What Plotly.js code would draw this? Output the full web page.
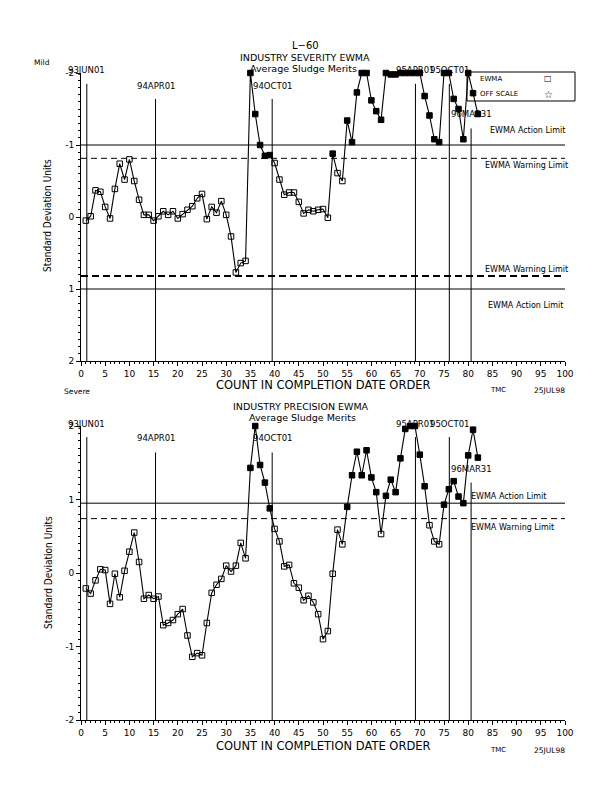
<!DOCTYPE html>
<html><head><meta charset="utf-8">
<script src="https://cdn.plot.ly/plotly-3.0.1.min.js"></script>
<style>html,body{margin:0;padding:0;background:#fff}#chart{width:616px;height:792px}</style>
</head><body><div id="chart"></div>
<script>
// ---------------- DATA ----------------
const count = [1,2,3,4,5,6,7,8,9,10,11,12,13,14,15,16,17,18,19,20,21,22,23,24,25,26,27,28,29,30,
  31,32,33,34,35,36,37,38,39,40,41,42,43,44,45,46,47,48,49,50,51,52,53,54,55,56,57,58,59,60,
  61,62,63,64,65,66,67,68,69,70,71,72,73,74,75,76,77,78,79,80,81,82];
const severity = [0.05,-0.01,-0.37,-0.35,-0.14,0.02,-0.39,-0.74,-0.52,-0.80,
  -0.50,-0.24,-0.03,-0.03,0.05,-0.01,-0.08,-0.03,-0.08,0.02,
  -0.04,-0.10,-0.15,-0.26,-0.32,0.03,-0.14,-0.06,-0.22,-0.03,
  0.27,0.77,0.64,0.61,-2.00,-1.43,-1.00,-0.85,-0.86,-0.75,
  -0.52,-0.31,-0.34,-0.34,-0.21,-0.05,-0.10,-0.08,-0.10,-0.11,
  0.01,-0.88,-0.61,-0.50,-1.34,-1.04,-1.73,-2.00,-2.00,-1.62,
  -1.47,-1.35,-2.00,-1.98,-1.98,-2.00,-2.00,-2.00,-2.00,-2.00,
  -1.68,-1.41,-1.08,-1.04,-2.00,-2.00,-1.64,-1.50,-1.08,-2.00,
  -1.72,-1.43];
const precision = [-0.21,-0.28,-0.10,0.05,0.04,-0.42,-0.01,-0.33,0.03,0.29,
  0.55,0.15,-0.35,-0.30,-0.35,-0.32,-0.71,-0.68,-0.64,-0.56,
  -0.49,-0.85,-1.14,-1.09,-1.12,-0.68,-0.27,-0.16,-0.08,0.10,
  0.02,0.10,0.41,0.20,1.43,2.00,1.47,1.23,0.88,0.60,
  0.43,0.09,0.11,-0.14,-0.20,-0.37,-0.31,-0.40,-0.56,-0.90,
  -0.79,-0.01,0.59,0.39,0.90,1.33,1.65,1.33,1.67,1.30,
  1.10,0.53,1.05,1.27,1.10,1.56,1.96,2.00,2.00,1.61,
  1.18,0.65,0.43,0.39,0.93,1.14,1.25,1.04,0.95,1.60,
  1.95,1.57];
const severityWarning = [-0.815, 0.82];
const severityAction = [-1.0, 1.0];
const precisionWarning = [0.74];
const precisionAction = [0.95];
const dateLabels = ['93JUN01','94APR01','94OCT01','95APR01','95OCT01','96MAR31'];
const datePositions = [1.2, 15.4, 39.5, 69.1, 76.1, 80.6];
const xTicks = [0,5,10,15,20,25,30,35,40,45,50,55,60,65,70,75,80,85,90,95,100];
const yTicks = [-2,-1,0,1,2];
const yTickText = ['-2','-1','0','1','2'];

// ---------------- STYLE / POSITION ----------------
const FONT = 'DejaVu Sans, Arial, sans-serif';
const W = 616, H = 792;
const px = v => v / W, py = v => 1 - v / H;
const dateLevel = [0,1,1,0,0,2];
const lineTop = [1.85, 1.64, 1.23];
const topLabelPx = [70, 86, 114];      // label heights (pixels) in the upper panel
const botLabelPx = [424, 438, 469];    // label heights (pixels) in the lower panel

function symbolsFor(vals, lo, hi) {
  return vals.map(v => ((lo !== null && v < lo) || v > hi) ? 'square' : 'square-open');
}

const traces = [
  {x: count, y: severity, xaxis: 'x', yaxis: 'y', mode: 'lines+markers', type: 'scatter',
   line: {color: '#000', width: 1.1},
   marker: {symbol: symbolsFor(severity, severityWarning[0], severityWarning[1]), size: 5.5, color: '#000', line: {color: '#000', width: 1}},
   showlegend: false, cliponaxis: false},
  {x: count, y: precision, xaxis: 'x2', yaxis: 'y2', mode: 'lines+markers', type: 'scatter',
   line: {color: '#000', width: 1.1},
   marker: {symbol: symbolsFor(precision, null, precisionWarning[0]), size: 5.5, color: '#000', line: {color: '#000', width: 1}},
   showlegend: false, cliponaxis: false}
];

const xCommon = {
  range: [0, 100], tickvals: xTicks, ticks: 'outside', ticklen: 4, tickwidth: 1, tickcolor: '#000',
  minor: {dtick: 1, tick0: 0, ticks: 'outside', ticklen: 2, tickcolor: '#000', showgrid: false},
  showline: true, linecolor: '#000', linewidth: 1, showgrid: false, zeroline: false,
  tickfont: {family: FONT, size: 9, color: '#000'}, domain: [px(81), px(565)], fixedrange: true
};
const yCommon = {
  tickvals: yTicks, ticktext: yTickText, ticks: 'outside', ticklen: 4, tickwidth: 1, tickcolor: '#000',
  minor: {dtick: 0.1, tick0: 0, ticks: 'outside', ticklen: 2, tickcolor: '#000', showgrid: false},
  showline: true, linecolor: '#000', linewidth: 1, showgrid: false, zeroline: false,
  tickfont: {family: FONT, size: 9, color: '#000'}, fixedrange: true
};

const shapes = [];
const annotations = [];
function ann(text, x, y, size, opts) {
  annotations.push(Object.assign({text: text, x: x, y: y, xref: 'paper', yref: 'paper', showarrow: false,
    font: {family: FONT, size: size, color: '#000'}, xanchor: 'center', yanchor: 'middle'}, opts || {}));
}
function hline(xa, ya, y, width, dash) {
  shapes.push({type: 'line', xref: xa, yref: ya, x0: 0, x1: 100, y0: y, y1: y,
    line: {color: '#000', width: width, dash: dash}});
}

// Top chart limits
hline('x', 'y', severityAction[0], 1, 'solid');
hline('x', 'y', severityAction[1], 1, 'solid');
hline('x', 'y', severityWarning[0], 1, '6px,4px');
hline('x', 'y', severityWarning[1], 2, '7px,4px');
// Bottom chart limits
hline('x2', 'y2', precisionAction[0], 1, 'solid');
hline('x2', 'y2', precisionWarning[0], 1, '6px,4px');

// Date markers
datePositions.forEach((p, i) => {
  const lv = dateLevel[i];
  shapes.push({type: 'line', xref: 'x', yref: 'y', x0: p, x1: p, y0: -lineTop[lv], y1: 2, line: {color: '#000', width: 1}});
  shapes.push({type: 'line', xref: 'x2', yref: 'y2', x0: p, x1: p, y0: lineTop[lv], y1: -2, line: {color: '#000', width: 1}});
  annotations.push({text: dateLabels[i], x: p, y: py(topLabelPx[lv]), xref: 'x', yref: 'paper', showarrow: false,
    font: {family: FONT, size: 8.5, color: '#000'}, xanchor: 'center', yanchor: 'middle'});
  annotations.push({text: dateLabels[i], x: p, y: py(botLabelPx[lv]), xref: 'x2', yref: 'paper', showarrow: false,
    font: {family: FONT, size: 8.5, color: '#000'}, xanchor: 'center', yanchor: 'middle'});
});

// Titles
ann('L\u221260', px(305), py(46), 10);
ann('INDUSTRY SEVERITY EWMA', px(305), py(57.5), 9.5);
ann('Average Sludge Merits', px(303), py(68.5), 9.5);
ann('INDUSTRY PRECISION EWMA', px(301), py(406), 9.5);
ann('Average Sludge Merits', px(302), py(417.5), 9.5);

// Axis titles
ann('COUNT IN COMPLETION DATE ORDER', px(323), py(385), 11.5);
ann('COUNT IN COMPLETION DATE ORDER', px(323), py(746), 11.5);
ann('Standard Deviation Units', px(48), py(216), 10, {textangle: -90, font: {family: 'DejaVu Sans Condensed, DejaVu Sans, sans-serif', size: 10, color: '#000'}});
ann('Standard Deviation Units', px(48), py(573), 10, {textangle: -90, font: {family: 'DejaVu Sans Condensed, DejaVu Sans, sans-serif', size: 10, color: '#000'}});
ann('Mild', px(42), py(62), 7.5);
ann('Severe', px(77), py(391), 7.5);
ann('TMC', px(498), py(390), 7);
ann('25JUL98', px(549), py(390), 7.5);
ann('TMC', px(498), py(750), 7);
ann('25JUL98', px(549), py(750), 7.5);

// Limit labels
ann('EWMA Action Limit', px(527), py(130), 8);
ann('EWMA Warning Limit', px(526), py(166), 8);
ann('EWMA Warning Limit', px(526), py(269), 8);
ann('EWMA Action Limit', px(525), py(305.5), 8);
ann('EWMA Action Limit', px(508), py(497), 8);
ann('EWMA Warning Limit', px(512), py(527), 8);

// Legend box
shapes.push({type: 'rect', xref: 'paper', yref: 'paper', x0: px(467), x1: px(575), y0: py(101), y1: py(72),
  line: {color: '#000', width: 1}, fillcolor: 'rgba(255,255,255,0)'});
ann('EWMA', px(478), py(79), 7, {xanchor: 'left'});
ann('OFF SCALE', px(478), py(94), 7, {xanchor: 'left'});
ann('\u25A1', px(548), py(79), 8);
ann('\u2606', px(548), py(94), 10);

const layout = {
  width: W, height: H, margin: {l: 0, r: 0, t: 0, b: 0},
  paper_bgcolor: '#fff', plot_bgcolor: 'rgba(0,0,0,0)', showlegend: false,
  font: {family: FONT, color: '#000'},
  xaxis: Object.assign({}, xCommon, {anchor: 'y'}),
  yaxis: Object.assign({}, yCommon, {anchor: 'x', range: [2, -2], domain: [py(361), py(73)]}),
  xaxis2: Object.assign({}, xCommon, {anchor: 'y2'}),
  yaxis2: Object.assign({}, yCommon, {anchor: 'x2', range: [-2, 2], domain: [py(720), py(426)]}),
  shapes: shapes, annotations: annotations
};

Plotly.newPlot('chart', traces, layout, {staticPlot: true, displayModeBar: false});
</script>
</body></html>
